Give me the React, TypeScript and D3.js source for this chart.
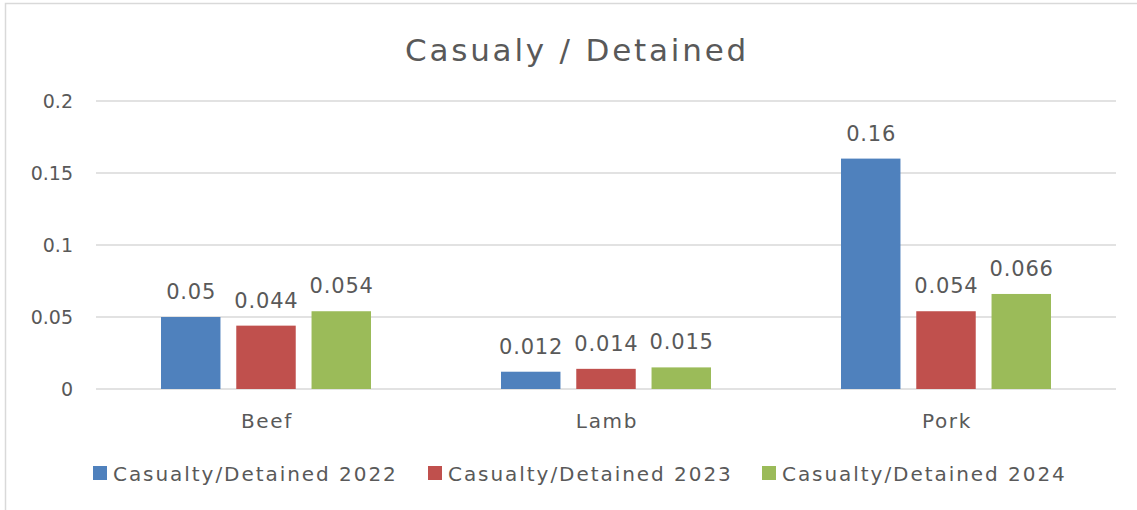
import React from 'react';
import * as d3 from 'd3';

const categories = ['Beef', 'Lamb', 'Pork'];
const seriesNames = ['Casualty/Detained 2022', 'Casualty/Detained 2023', 'Casualty/Detained 2024'];
const values2022 = [0.05, 0.012, 0.16];
const values2023 = [0.044, 0.014, 0.054];
const values2024 = [0.054, 0.015, 0.066];
const yTicks = [0, 0.05, 0.1, 0.15, 0.2];
const colors = ['#4F81BD', '#C0504D', '#9BBB59'];

const W = 1137;
const H = 510;
const font = '"DejaVu Sans", sans-serif';
const textColor = '#595959';

const App = () => {
    const series = [values2022, values2023, values2024];
    const x = d3.scaleBand().domain(categories).range([96, 1116]);
    const inner = d3.scaleBand<number>().domain([0, 1, 2]).range([65, 275]).paddingInner(0.21);
    const y = d3.scaleLinear().domain([0, 0.2]).range([389, 101]);
    const fmt = (v: number) => String(v);

    const legendX = [93, 428, 762];

    return (
        <svg width={W} height={H} style={{ position: 'absolute', left: 0, top: 0 }}>
            <rect x={0} y={0} width={W} height={H} fill="#fff" />
            <rect x={5.5} y={3.5} width={W + 10} height={H + 10} fill="none" stroke="#D9D9D9" strokeWidth={1.5} />
            <text x={577} y={61} textAnchor="middle" fontFamily={font} fontSize={31} letterSpacing={2.8} fill={textColor}>
                Casualy / Detained
            </text>
            {yTicks.map(t => (
                <g key={t}>
                    <line x1={96} x2={1116} y1={y(t)} y2={y(t)} stroke="#D9D9D9" strokeWidth={1.5} />
                    <text x={73} y={y(t)} dy="0.35em" textAnchor="end" fontFamily={font} fontSize={19} fill={textColor}>
                        {fmt(t)}
                    </text>
                </g>
            ))}
            {categories.map((c, ci) => (
                <g key={c} transform={`translate(${x(c)},0)`}>
                    {series.map((vals, si) => (
                        <g key={si}>
                            <rect x={inner(si)} y={y(vals[ci])} width={inner.bandwidth()}
                                  height={y(0) - y(vals[ci])} fill={colors[si]} />
                            <text x={(inner(si) as number) + inner.bandwidth() / 2 + 0.4} y={y(vals[ci]) - 18}
                                  textAnchor="middle" fontFamily={font} fontSize={21} letterSpacing={0.8} fill={textColor}>
                                {fmt(vals[ci])}
                            </text>
                        </g>
                    ))}
                    <text x={x.bandwidth() / 2 + 1} y={428} textAnchor="middle" fontFamily={font} fontSize={20} letterSpacing={1.7} fill={textColor}>
                        {c}
                    </text>
                </g>
            ))}
            {seriesNames.map((name, i) => (
                <g key={name}>
                    <rect x={legendX[i]} y={466} width={14} height={14} fill={colors[i]} />
                    <text x={legendX[i] + 20} y={481} fontFamily={font} fontSize={20} letterSpacing={1.95} fill={textColor}>
                        {name}
                    </text>
                </g>
            ))}
        </svg>
    );
};

export default App;
